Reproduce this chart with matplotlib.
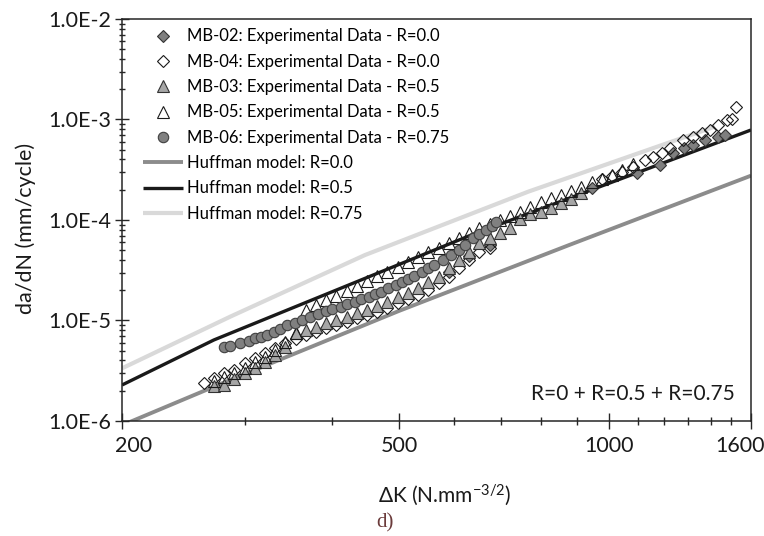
import matplotlib
matplotlib.use('Agg')
import matplotlib.pyplot as plt
from matplotlib.ticker import FixedLocator, NullFormatter, LogLocator

plt.rcParams['font.family'] = ['Lato', 'DejaVu Sans']
plt.rcParams['mathtext.fontset'] = 'custom'
plt.rcParams['mathtext.rm'] = 'Lato'
plt.rcParams['mathtext.it'] = 'Lato:italic'

# MB-02: Experimental Data - R=0.0 (filled diamonds)
dk_mb02 = [589.0, 630.1, 674.1, 944.8, 1096.5, 1183.8, 1237.7, 1280.2,
           1322.4, 1375.2, 1435.9, 1469.3]
da_mb02 = [3.01e-5, 4.42e-5, 5.64e-5, 2.07e-4, 2.91e-4, 3.53e-4, 4.61e-4,
           5.16e-4, 5.58e-4, 6.25e-4, 6.75e-4, 7.01e-4]

# MB-04: Experimental Data - R=0.0 (open diamonds)
dk_mb04 = [262.0, 271.0, 280.3, 289.9, 299.9, 310.2, 320.8, 331.8, 343.2, 355.0,
           367.2, 379.8, 392.8, 406.3, 420.3, 434.7, 449.6, 465.1, 481.0, 497.5,
           514.6, 532.3, 550.6, 569.5, 589.0, 609.2, 630.1, 651.8, 674.1,
           977.3, 1010.8, 1045.5, 1081.4, 1127.6, 1156.9, 1191.8, 1224.4, 1278.5,
           1320.6, 1360.5, 1397.8, 1435.9, 1477.0, 1501.0, 1525.0]
da_mb04 = [2.37e-6, 2.66e-6, 2.98e-6, 3.22e-6, 3.75e-6, 4.20e-6, 4.71e-6, 5.28e-6,
           5.93e-6, 6.54e-6, 7.17e-6, 7.74e-6, 8.36e-6, 9.02e-6, 9.73e-6, 1.051e-5,
           1.134e-5, 1.224e-5, 1.341e-5, 1.482e-5, 1.636e-5, 1.793e-5, 2.01e-5,
           2.34e-5, 2.73e-5, 3.30e-5, 4.00e-5, 4.77e-5, 5.22e-5,
           2.56e-4, 2.74e-4, 3.03e-4, 3.39e-4, 3.95e-4, 4.27e-4, 4.68e-4, 5.16e-4,
           6.25e-4, 6.75e-4, 7.29e-4, 7.86e-4, 8.82e-4, 9.89e-4, 1.02e-3, 1.342e-3]

# MB-03: Experimental Data - R=0.5 (grey triangles)
dk_mb03 = [271.0, 280.3, 289.9, 299.9, 310.2, 320.8, 331.8, 343.2, 355.0, 367.2,
           379.8, 392.8, 406.3, 420.3, 434.7, 449.6, 465.1, 481.0, 497.5, 514.6,
           532.3, 550.6, 569.5, 589.0, 609.2, 630.1, 651.8, 674.1, 697.3, 721.2,
           746.0, 771.6, 798.1, 825.5, 853.8, 883.1, 913.5]
da_mb03 = [2.25e-6, 2.28e-6, 2.62e-6, 2.98e-6, 3.34e-6, 3.89e-6, 4.54e-6, 5.49e-6,
           7.45e-6, 8.04e-6, 8.68e-6, 9.37e-6, 1.012e-5, 1.092e-5, 1.179e-5,
           1.272e-5, 1.404e-5, 1.539e-5, 1.726e-5, 1.864e-5, 2.09e-5, 2.43e-5,
           2.73e-5, 3.30e-5, 4.00e-5, 4.84e-5, 5.86e-5, 6.57e-5, 7.37e-5, 8.26e-5,
           1.023e-4, 1.138e-4, 1.210e-4, 1.327e-4, 1.465e-4, 1.605e-4, 1.842e-4]

# MB-05: Experimental Data - R=0.5 (open triangles)
dk_mb05 = [271.0, 280.3, 289.9, 299.9, 310.2, 320.8, 331.8, 343.2, 355.0, 367.2,
           379.8, 392.8, 406.3, 420.3, 434.7, 449.6, 465.1, 481.0, 497.5, 514.6,
           532.3, 550.6, 569.5, 589.0, 609.2, 630.1, 651.8, 674.1, 697.3, 721.2,
           746.0, 771.6, 798.1, 825.5, 853.8, 883.1, 913.5, 944.8, 977.3, 1010.8,
           1045.5, 1081.4]
da_mb05 = [2.50e-6, 2.76e-6, 2.98e-6, 3.39e-6, 3.83e-6, 4.37e-6, 5.09e-6, 6.06e-6,
           7.45e-6, 1.272e-5, 1.415e-5, 1.587e-5, 1.767e-5, 1.966e-5, 2.20e-5,
           2.45e-5, 2.75e-5, 3.06e-5, 3.41e-5, 3.82e-5, 4.25e-5, 4.77e-5, 5.30e-5,
           5.90e-5, 6.62e-5, 7.37e-5, 8.26e-5, 9.06e-5, 1.00e-4, 1.096e-4, 1.210e-4,
           1.336e-4, 1.499e-4, 1.643e-4, 1.773e-4, 1.958e-4, 2.146e-4, 2.37e-4,
           2.56e-4, 2.80e-4, 3.15e-4, 3.58e-4]

# MB-06: Experimental Data - R=0.75 (circles)
dk_mb06 = [280.3, 286.0, 295.9, 304.0, 310.2, 316.5, 323.0, 330.9, 337.3, 345.6,
           354.1, 362.3, 372.2, 382.4, 392.9, 400.9, 411.9, 420.3, 431.8, 440.7,
           452.7, 462.0, 471.4, 481.1, 494.3, 504.4, 514.7, 525.2, 539.6, 550.7,
           561.9, 577.3, 593.2, 609.4, 621.9, 638.9, 652.0, 665.3, 678.9, 688.2]
da_mb06 = [5.41e-6, 5.62e-6, 5.93e-6, 6.25e-6, 6.65e-6, 6.90e-6, 7.17e-6, 7.74e-6,
           8.23e-6, 9.02e-6, 9.37e-6, 1.012e-5, 1.092e-5, 1.161e-5, 1.243e-5,
           1.302e-5, 1.373e-5, 1.448e-5, 1.539e-5, 1.636e-5, 1.726e-5, 1.821e-5,
           1.936e-5, 2.09e-5, 2.25e-5, 2.43e-5, 2.59e-5, 2.79e-5, 3.06e-5, 3.30e-5,
           3.57e-5, 4.00e-5, 4.48e-5, 5.03e-5, 5.64e-5, 6.57e-5, 7.20e-5, 7.95e-5,
           8.78e-5, 9.48e-5]

# Huffman model curves
dk_h00 = [200.0, 278.4, 499.5, 877.4, 1600.0]
da_h00 = [9.06e-7, 2.37e-6, 1.243e-5, 5.64e-5, 2.76e-4]
dk_h05 = [200.0, 271.0, 401.0, 634.6, 1600.0]
da_h05 = [2.28e-6, 6.40e-6, 1.936e-5, 7.09e-5, 7.86e-4]
dk_h075 = [200.0, 286.1, 446.6, 766.3, 1420.0]
da_h075 = [3.34e-6, 1.092e-5, 4.48e-5, 1.914e-4, 8.5e-4]

series_labels = ['MB-02: Experimental Data - R=0.0', 'MB-04: Experimental Data - R=0.0',
                 'MB-03: Experimental Data - R=0.5', 'MB-05: Experimental Data - R=0.5',
                 'MB-06: Experimental Data - R=0.75', 'Huffman model: R=0.0',
                 'Huffman model: R=0.5', 'Huffman model: R=0.75']

x_major = [200, 500, 1000, 1600]
x_major_labels = ['200', '500', '1000', '1600']
x_minor = [300, 400, 600, 700, 800, 900, 1100, 1200, 1300, 1400, 1500]
y_major = [1e-6, 1e-5, 1e-4, 1e-3, 1e-2]
y_major_labels = ['1.0E-6', '1.0E-5', '1.0E-4', '1.0E-3', '1.0E-2']

fig = plt.figure(figsize=(7.64, 5.36), dpi=100)
ax = fig.add_axes([0.1597, 0.2146, 0.8233, 0.75])

# model lines sit underneath the markers
l00, = ax.plot(dk_h00, da_h00, color='#8c8c8c', lw=2.8, zorder=1, solid_capstyle='butt')
l05, = ax.plot(dk_h05, da_h05, color='#1a1a1a', lw=2.4, zorder=1, solid_capstyle='butt')
l075, = ax.plot(dk_h075, da_h075, color='#d9d9d9', lw=3.0, zorder=1, solid_capstyle='butt')

edge = '#333333'
h02, = ax.plot(dk_mb02, da_mb02, ls='none', marker='D', ms=6.3, mfc='#7f7f7f', mec=edge, mew=0.8, zorder=3)
h04, = ax.plot(dk_mb04, da_mb04, ls='none', marker='D', ms=6.3, mfc='none', mec='#1a1a1a', mew=0.8, zorder=3)
h03, = ax.plot(dk_mb03, da_mb03, ls='none', marker='^', ms=8, mfc='#a6a6a6', mec=edge, mew=0.8, zorder=3)
h05, = ax.plot(dk_mb05, da_mb05, ls='none', marker='^', ms=8, mfc='none', mec='#1a1a1a', mew=0.8, zorder=3)
h06, = ax.plot(dk_mb06, da_mb06, ls='none', marker='o', ms=7.5, mfc='#808080', mec='#404040', mew=0.8, zorder=4)

ax.set_xscale('log')
ax.set_yscale('log')
ax.set_xlim(200, 1600)
ax.set_ylim(1e-6, 1e-2)

ax.xaxis.set_major_locator(FixedLocator(x_major))
ax.xaxis.set_minor_locator(FixedLocator(x_minor))
ax.xaxis.set_major_formatter(NullFormatter())
ax.xaxis.set_minor_formatter(NullFormatter())
ax.yaxis.set_major_locator(FixedLocator(y_major))
ax.yaxis.set_minor_locator(LogLocator(base=10, subs=range(2, 10)))
ax.yaxis.set_minor_formatter(NullFormatter())
ax.set_yticklabels(y_major_labels)

axis_col = '#262626'
for sp in ax.spines.values():
    sp.set_linewidth(1.1)
    sp.set_color(axis_col)

ax.tick_params(which='both', direction='inout', color=axis_col, width=1.0, labelcolor='#1a1a1a')
ax.tick_params(axis='x', which='major', length=11.5)
ax.tick_params(axis='x', which='minor', length=6)
ax.tick_params(axis='y', which='major', length=10, labelsize=15.5, pad=3)
ax.tick_params(axis='y', which='minor', length=5)

# x tick labels, the end ones pulled inwards like the original
x_shift = {200: 8, 1600: -8}
for v, lab in zip(x_major, x_major_labels):
    ax.annotate(lab, xy=(v, 0), xycoords=('data', 'axes fraction'),
                xytext=(x_shift.get(v, 0), -11), textcoords='offset points',
                ha='center', va='top', fontsize=15.5, color='#1a1a1a')

ax.legend([h02, h04, h03, h05, h06, l00, l05, l075], series_labels,
          loc='upper left', bbox_to_anchor=(0.0334, 0.9766), frameon=False,
          fontsize=12, borderpad=0, borderaxespad=0, handlelength=2.4,
          handletextpad=0.25, labelspacing=0.56, numpoints=1)

ax.text(0.9746, 0.067, 'R=0 + R=0.5 + R=0.75', transform=ax.transAxes,
        ha='right', va='center', fontsize=15, color='#1a1a1a')

fig.text(0.034, 0.573, 'da/dN (mm/cycle)', rotation=90, ha='center', va='center',
         fontsize=15.5, color='#1a1a1a')
fig.text(0.5825, 0.0765, 'ΔK (N.mm$^{-3/2}$)', ha='center', va='center',
         fontsize=15, color='#1a1a1a')
fig.text(0.504, 0.0243, 'd)', ha='center', va='center', fontsize=15,
         family='Liberation Serif', color='#6b3b3b')

fig.savefig('out.png', dpi=100)
